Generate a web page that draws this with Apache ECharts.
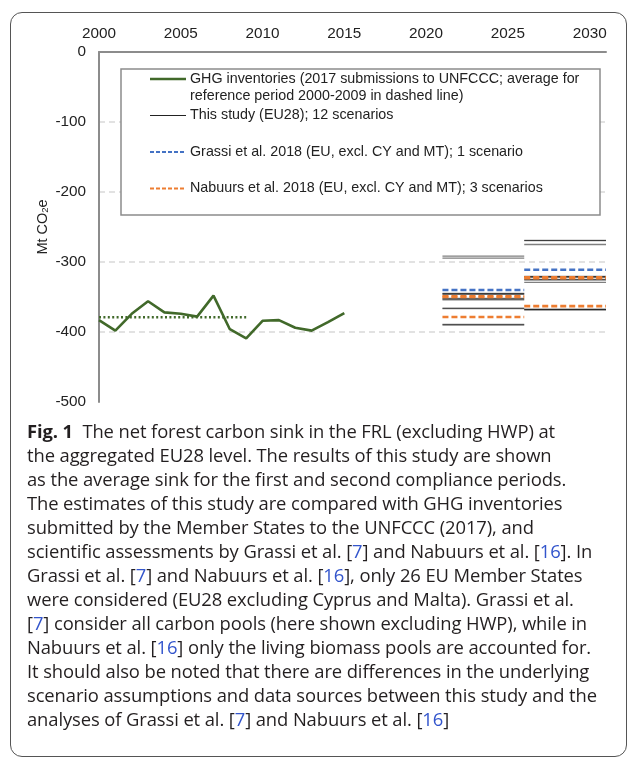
<!DOCTYPE html>
<html>
<head>
<meta charset="utf-8">
<script src="https://cdn.jsdelivr.net/npm/echarts@6/dist/echarts.min.js"></script>
<style>
  html, body { margin: 0; padding: 0; background: #fff; width: 630px; height: 768px; overflow: hidden; }
  #frame { position: absolute; left: 10px; top: 12px; width: 617px; height: 745px; border: 1.5px solid #555; border-radius: 12px; box-sizing: border-box; }
  #chart { position: absolute; left: 0; top: 0; width: 630px; height: 420px; }
  #caption { position: absolute; left: 27px; top: 419px; font-family: "Open Sans", "Noto Sans", sans-serif; font-size: 18.4px; line-height: 24px; color: #231f20; letter-spacing: -0.1px; white-space: nowrap; }
  #caption b { font-weight: 700; }
  #caption .r { color: #3355cc; }
</style>
</head>
<body>
<div id="frame"></div>
<div id="chart"></div>
<div id="caption">
<b>Fig. 1</b>&nbsp; The net forest carbon sink in the FRL (excluding HWP) at<br>
the aggregated EU28 level. The results of this study are shown<br>
as the average sink for the first and second compliance periods.<br>
The estimates of this study are compared with GHG inventories<br>
submitted by the Member States to the UNFCCC (2017), and<br>
scientific assessments by Grassi et al. [<span class="r">7</span>] and Nabuurs et al. [<span class="r">16</span>]. In<br>
Grassi et al. [<span class="r">7</span>] and Nabuurs et al. [<span class="r">16</span>], only 26 EU Member States<br>
were considered (EU28 excluding Cyprus and Malta). Grassi et al.<br>
[<span class="r">7</span>] consider all carbon pools (here shown excluding HWP), while in<br>
Nabuurs et al. [<span class="r">16</span>] only the living biomass pools are accounted for.<br>
It should also be noted that there are differences in the underlying<br>
scenario assumptions and data sources between this study and the<br>
analyses of Grassi et al. [<span class="r">7</span>] and Nabuurs et al. [<span class="r">16</span>]
</div>
<script>
// ---- data ----
const ghgYears = [2000, 2001, 2002, 2003, 2004, 2005, 2006, 2007, 2008, 2009, 2010, 2011, 2012, 2013, 2014, 2015];
const ghgValues = [-383, -398, -374, -356, -372, -374, -378, -348, -396, -409, -384, -383, -394, -398, -386, -373];
const refPeriod = [2000, 2009];
const refAverage = -379;
const period1 = [2021, 2026];
const period2 = [2026, 2031];
const studyP1 = [-291.5, -294.5, -345, -345.5, -346, -352, -353, -354, -366, -366.5, -389, -390];
const studyP2 = [-269, -275, -320.5, -321, -322, -325, -325.5, -329, -367.5, -368, -368.5, -269.5];
const grassiP1 = [-340];
const grassiP2 = [-311];
const nabuursP1 = [-349, -350, -378.5];
const nabuursP2 = [-322, -323, -363];
const xTicks = [2000, 2005, 2010, 2015, 2020, 2025, 2030];
const yTicks = [0, -100, -200, -300, -400, -500];

const legendGHG1 = 'GHG inventories (2017 submissions to UNFCCC; average for';
const legendGHG2 = 'reference period 2000-2009 in dashed line)';
const legendStudy = 'This study (EU28); 12 scenarios';
const legendGrassi = 'Grassi et al. 2018 (EU, excl. CY and MT); 1 scenario';
const legendNabuurs = 'Nabuurs et al. 2018 (EU, excl. CY and MT); 3 scenarios';

const GREEN = '#41692a', BLUE = '#4472c4', ORANGE = '#ed7d31';
const FONT = 'Liberation Sans, Arial, sans-serif';

function seg(period, v) { return [[period[0], v], [period[1], v]]; }

const series = [];
series.push({ type: 'line', data: ghgYears.map((y, i) => [y, ghgValues[i]]), symbol: 'none',
  lineStyle: { color: GREEN, width: 2.6 }, z: 5, animation: false });
series.push({ type: 'line', data: seg(refPeriod, refAverage), symbol: 'none',
  lineStyle: { color: GREEN, width: 2.6, type: [2, 2.4] }, z: 5, animation: false });
[[period1, studyP1], [period2, studyP2]].forEach(([p, arr]) => arr.forEach(v => series.push({
  type: 'line', data: seg(p, v), symbol: 'none', lineStyle: { color: 'rgba(0,0,0,0.5)', width: 1.3 }, z: 3, animation: false })));
[[period1, grassiP1], [period2, grassiP2]].forEach(([p, arr]) => arr.forEach(v => series.push({
  type: 'line', data: seg(p, v), symbol: 'none', lineStyle: { color: BLUE, width: 2.6, type: [6, 3] }, z: 4, animation: false })));
[[period1, nabuursP1], [period2, nabuursP2]].forEach(([p, arr]) => arr.forEach(v => series.push({
  type: 'line', data: seg(p, v), symbol: 'none', lineStyle: { color: ORANGE, width: 2.6, type: [6, 3] }, z: 4, animation: false })));

const lf = { fontFamily: FONT, fontSize: 14.3, fill: '#222' };
const lgX1 = 150, lgX2 = 186, lgTx = 190;
const graphic = [
  { type: 'rect', shape: { x: 121, y: 69, width: 479, height: 146 }, style: { fill: '#fff', stroke: '#8c8c8c', lineWidth: 1.5 }, z: 50 },
  { type: 'line', shape: { x1: lgX1, y1: 79, x2: lgX2, y2: 79 }, style: { stroke: GREEN, lineWidth: 2.6 }, z: 51 },
  { type: 'text', x: lgTx, y: 79, style: Object.assign({ text: legendGHG1, verticalAlign: 'middle' }, lf), z: 51 },
  { type: 'text', x: lgTx, y: 96, style: Object.assign({ text: legendGHG2, verticalAlign: 'middle' }, lf), z: 51 },
  { type: 'line', shape: { x1: lgX1, y1: 115.5, x2: lgX2, y2: 115.5 }, style: { stroke: '#222', lineWidth: 1 }, z: 51 },
  { type: 'text', x: lgTx, y: 115.5, style: Object.assign({ text: legendStudy, verticalAlign: 'middle' }, lf), z: 51 },
  { type: 'line', shape: { x1: lgX1, y1: 152, x2: lgX2, y2: 152 }, style: { stroke: BLUE, lineWidth: 2, lineDash: [4, 2] }, z: 51 },
  { type: 'text', x: lgTx, y: 152, style: Object.assign({ text: legendGrassi, verticalAlign: 'middle' }, lf), z: 51 },
  { type: 'line', shape: { x1: lgX1, y1: 188.5, x2: lgX2, y2: 188.5 }, style: { stroke: ORANGE, lineWidth: 2, lineDash: [4, 2] }, z: 51 },
  { type: 'text', x: lgTx, y: 188.5, style: Object.assign({ text: legendNabuurs, verticalAlign: 'middle' }, lf), z: 51 }
];

const chart = echarts.init(document.getElementById('chart'), null, { renderer: 'canvas' });
chart.setOption({
  animation: false,
  backgroundColor: 'transparent',
  grid: { left: 99, right: 24, top: 52, bottom: 18, containLabel: false, outerBoundsMode: 'none' },
  xAxis: {
    type: 'value', position: 'top', min: 2000, max: 2031, interval: 5,
    axisLine: { show: true, onZero: false, lineStyle: { color: '#8c8c8c', width: 2 } },
    axisTick: { show: false },
    splitLine: { show: false },
    axisLabel: { margin: 11, fontSize: 15.3, color: '#222', fontFamily: FONT,
      formatter: v => xTicks.includes(v) ? String(v) : '' }
  },
  yAxis: {
    type: 'value', min: -500, max: 0, interval: 100,
    name: 'Mt CO{s|2}e', nameLocation: 'middle', nameRotate: 90, nameGap: 49, nameMoveOverlap: false,
    nameTextStyle: { fontSize: 14.5, color: '#222', fontFamily: FONT,
      rich: { s: { fontSize: 9.5, color: '#222', verticalAlign: 'bottom', fontFamily: FONT } } },
    axisLine: { show: true, onZero: false, lineStyle: { color: '#8c8c8c', width: 2 } },
    axisTick: { show: false },
    splitLine: { show: true, lineStyle: { color: ['rgba(0,0,0,0)', '#d9d9d9', '#d9d9d9', '#d9d9d9', '#d9d9d9', 'rgba(0,0,0,0)'], width: 1.5, type: [6, 4] } },
    axisLabel: { margin: 13, fontSize: 15.3, color: '#222', fontFamily: FONT,
      formatter: v => yTicks.includes(v) ? String(v) : '' }
  },
  graphic: graphic,
  series: series
});
</script>
</body>
</html>
